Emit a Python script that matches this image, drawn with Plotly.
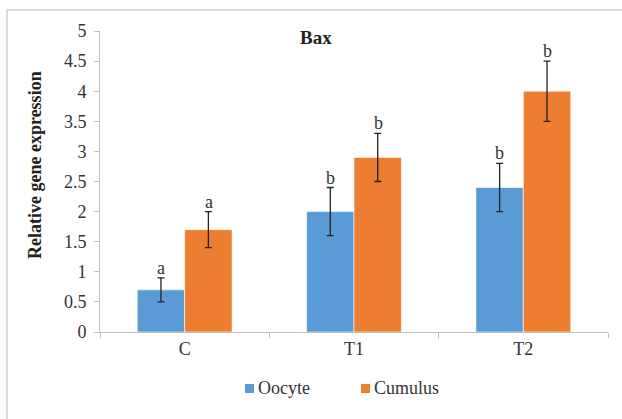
import plotly.graph_objects as go

categories = ["C", "T1", "T2"]
oocyte = [0.7, 2.0, 2.4]
oocyte_err = [0.2, 0.4, 0.4]
cumulus = [1.7, 2.9, 4.0]
cumulus_err = [0.3, 0.4, 0.5]
oocyte_letters = ["a", "b", "b"]
cumulus_letters = ["a", "b", "b"]
y_ticks = [0, 0.5, 1, 1.5, 2, 2.5, 3, 3.5, 4, 4.5, 5]
series_names = ["Oocyte", "Cumulus"]

FONT = "Liberation Serif"
BLUE = "#5B9BD5"
ORANGE = "#ED7D31"
FS = 18

W, H = 622, 419
L, R, T, B = 100, 14, 31, 87
pw, ph = W - L - R, H - T - B

def px_x(p):
    return (p - L) / pw

def px_y(p):
    return (H - B - p) / ph

fig = go.Figure()
fig.add_trace(go.Bar(
    name=series_names[0], x=categories, y=oocyte,
    marker=dict(color=BLUE, line=dict(color="white", width=0.6)),
    error_y=dict(type="data", array=oocyte_err, visible=True, color="#222222", thickness=1.3, width=3.5),
))
fig.add_trace(go.Bar(
    name=series_names[1], x=categories, y=cumulus,
    marker=dict(color=ORANGE, line=dict(color="white", width=0.6)),
    error_y=dict(type="data", array=cumulus_err, visible=True, color="#222222", thickness=1.3, width=3.5),
))

# significance letters above error bars
for i, c in enumerate(categories):
    fig.add_annotation(x=c, y=oocyte[i] + oocyte_err[i], text=oocyte_letters[i],
                       xshift=-24, yshift=-2, yanchor="bottom", showarrow=False,
                       font=dict(family=FONT, size=FS, color="#333333"))
    fig.add_annotation(x=c, y=cumulus[i] + cumulus_err[i], text=cumulus_letters[i],
                       xshift=24, yshift=-2, yanchor="bottom", showarrow=False,
                       font=dict(family=FONT, size=FS, color="#333333"))

# title
fig.add_annotation(xref="paper", yref="paper", x=px_x(316), y=px_y(37), text="<b>Bax</b>",
                   showarrow=False, xanchor="center", yanchor="middle",
                   font=dict(family=FONT, size=19, color="#222222"))
# y-axis title
fig.add_annotation(xref="paper", yref="paper", x=px_x(35), y=px_y(165),
                   text="<b>Relative gene expression</b>", textangle=-90,
                   showarrow=False, xanchor="center", yanchor="middle",
                   font=dict(family=FONT, size=FS, color="#222222"))

# custom legend (square + label)
legend_items = [(series_names[0], BLUE, 245), (series_names[1], ORANGE, 361)]
for name, col, x0 in legend_items:
    fig.add_shape(type="rect", xref="paper", yref="paper",
                  x0=px_x(x0), x1=px_x(x0 + 9), y0=px_y(393), y1=px_y(384),
                  line=dict(width=0), fillcolor=col)
    fig.add_annotation(xref="paper", yref="paper", x=px_x(x0 + 11), y=px_y(388), text=name,
                       showarrow=False, xanchor="left", yanchor="middle",
                       font=dict(family=FONT, size=FS, color="#333333"))

# outer chart border
fig.add_shape(type="rect", xref="paper", yref="paper",
              x0=px_x(7), x1=px_x(640), y0=px_y(440), y1=px_y(10),
              line=dict(color="#d0d0d0", width=1.5), fillcolor="rgba(0,0,0,0)", layer="below")

fig.update_layout(
    width=W, height=H,
    margin=dict(l=L, r=R, t=T, b=B),
    paper_bgcolor="white", plot_bgcolor="white",
    barmode="group", bargap=0.44, bargroupgap=0,
    showlegend=False,
    xaxis=dict(showline=True, linecolor="#bfbfbf", linewidth=1,
               ticks="outside", tickson="boundaries", ticklen=5, tickcolor="#bfbfbf",
               tickfont=dict(family=FONT, size=FS, color="#333333"), showgrid=False),
    yaxis=dict(range=[0, 5], tickvals=y_ticks, showline=True, linecolor="#bfbfbf", linewidth=1,
               ticks="outside", ticklen=5, tickcolor="#bfbfbf", ticklabelstandoff=4,
               tickfont=dict(family=FONT, size=FS, color="#333333"), showgrid=False, zeroline=False),
)

fig.write_html("out.html")
